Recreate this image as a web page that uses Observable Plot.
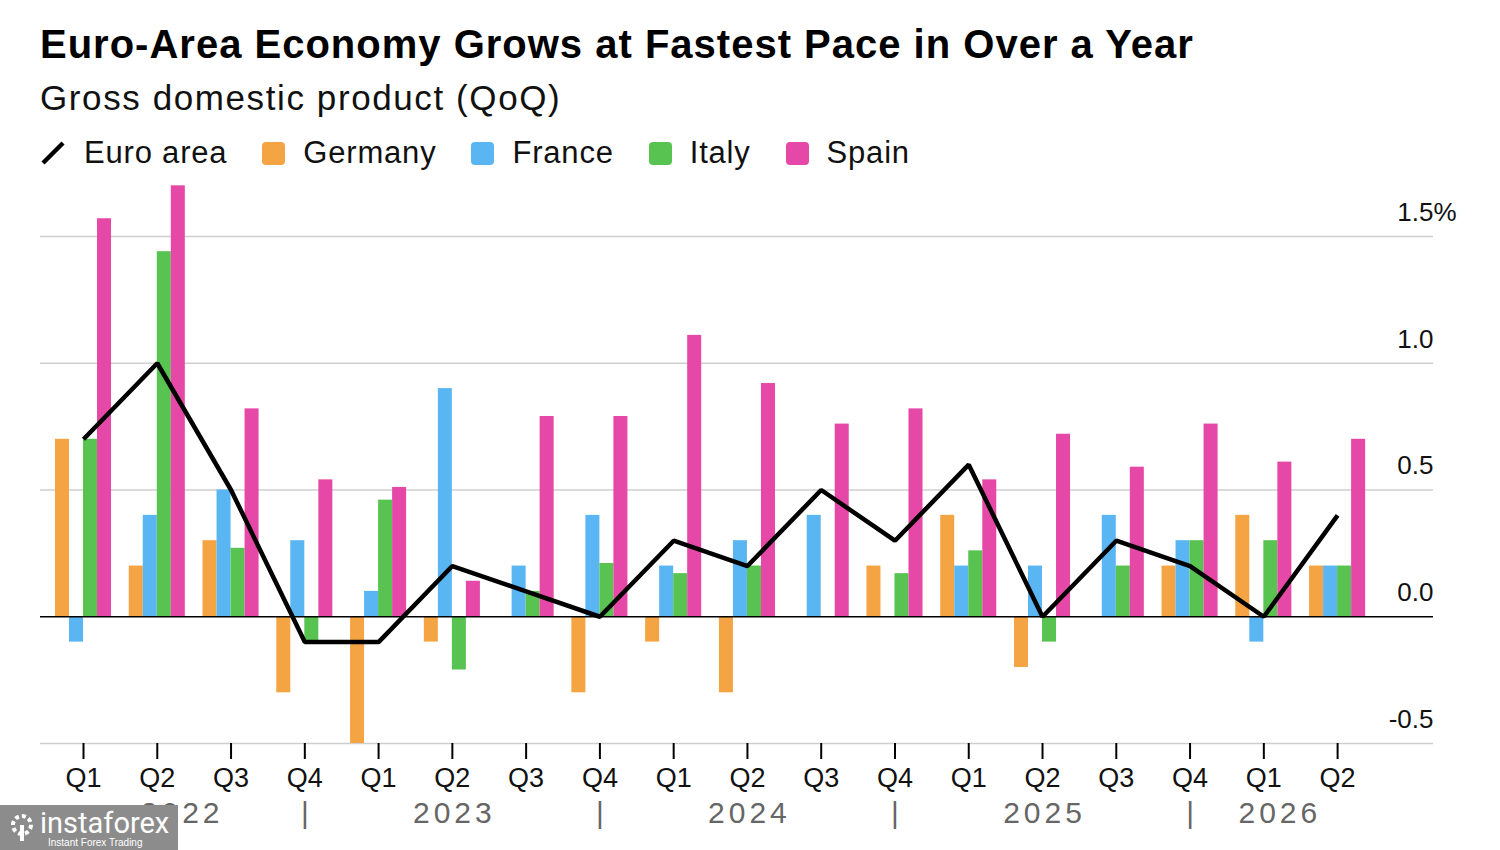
<!DOCTYPE html>
<html>
<head>
<meta charset="utf-8">
<script src="https://cdn.jsdelivr.net/npm/d3@7"></script>
<script src="https://cdn.jsdelivr.net/npm/@observablehq/plot@0.6"></script>
<style>
  html, body { margin: 0; padding: 0; background: #fff; width: 1500px; height: 850px; overflow: hidden; font-family: "Liberation Sans", Arial, sans-serif; }
  .title { position: absolute; left: 40px; top: 24px; font-size: 40px; font-weight: bold; line-height: 1; color: #000; letter-spacing: 1px; white-space: nowrap; }
  .subtitle { position: absolute; left: 40px; top: 80px; font-size: 35px; line-height: 1; color: #111; letter-spacing: 1.6px; white-space: nowrap; }
  .legend { position: absolute; left: 40px; top: 138px; display: flex; align-items: center; font-size: 31px; line-height: 30px; color: #111; letter-spacing: 0.8px; white-space: nowrap; }
  .legend .item { display: flex; align-items: center; margin-right: 35px; }
  .legend .sw { width: 23px; height: 23px; border-radius: 4px; margin-right: 18px; }
  .legend svg { margin-right: 18px; }
  #chart { position: absolute; left: 0; top: 160px; }
  .wm { position: absolute; left: 0; top: 805px; width: 178px; height: 45px; background: #8c8c8c; color: #fff; }
  .wm .big { position: absolute; left: 40px; top: 4px; font-size: 29px; line-height: 1; font-family: "Liberation Sans Narrow", "Roboto", sans-serif; }
  .wm .small { position: absolute; left: 48px; top: 33px; font-size: 10px; line-height: 1; }
  .wm .logo { position: absolute; left: 8px; top: 7px; width: 28px; height: 30px; }
</style>
</head>
<body>
<div class="title">Euro-Area Economy Grows at Fastest Pace in Over a Year</div>
<div class="subtitle">Gross domestic product (QoQ)</div>
<div class="legend" id="legend"></div>
<div id="chart"></div>
<div class="wm">
  <svg class="logo" viewBox="0 0 28 30"><circle cx="14" cy="13" r="9" fill="none" stroke="#fff" stroke-width="4" stroke-dasharray="4 3"/><rect x="12" y="13" width="4" height="16" fill="#fff"/></svg>
  <div class="big">instaforex</div>
  <div class="small">Instant Forex Trading</div>
</div>
<script>
// ---- data ----
const quarterLabels = ["Q1","Q2","Q3","Q4","Q1","Q2","Q3","Q4","Q1","Q2","Q3","Q4","Q1","Q2","Q3","Q4","Q1","Q2"];
const yearLabels = ["2022","2023","2024","2025","2026"];
const seriesNames = ["Germany","France","Italy","Spain"];
const seriesColors = ["#f5a443","#5ab6f2","#58c350","#e548a6"];
const germany = [0.7, 0.2, 0.3, -0.3, -0.5, -0.1, 0, -0.3, -0.1, -0.3, 0, 0.2, 0.4, -0.2, 0, 0.2, 0.4, 0.2];
const france  = [-0.1, 0.4, 0.5, 0.3, 0.1, 0.9, 0.2, 0.4, 0.2, 0.3, 0.4, 0, 0.2, 0.2, 0.4, 0.3, -0.1, 0.2];
const italy   = [0.7, 1.44, 0.27, -0.1, 0.46, -0.21, 0.1, 0.21, 0.17, 0.2, 0, 0.17, 0.26, -0.1, 0.2, 0.3, 0.3, 0.2];
const spain   = [1.57, 1.70, 0.82, 0.54, 0.51, 0.14, 0.79, 0.79, 1.11, 0.92, 0.76, 0.82, 0.54, 0.72, 0.59, 0.76, 0.61, 0.70];
const euroArea = [0.7, 1.0, 0.5, -0.1, -0.1, 0.2, 0.1, 0.0, 0.3, 0.2, 0.5, 0.3, 0.6, 0.0, 0.3, 0.2, 0.0, 0.4];
const yTicks = [-0.5, 0, 0.5, 1.0, 1.5];

// ---- build tables ----
const seriesValues = [germany, france, italy, spain];
const barW = 0.19;
const bars = [];
seriesValues.forEach((vals, s) => vals.forEach((v, i) => bars.push({i, s, v, x1: i - 2 * barW + s * barW, x2: i - 2 * barW + (s + 1) * barW})));
const line = euroArea.map((v, i) => ({i, v}));
const qIdx = quarterLabels.map((_, i) => i);
const q4Idx = qIdx.filter(i => quarterLabels[i] === "Q4");
const leftEdge = -2 * barW, rightEdge = quarterLabels.length - 1 + 2 * barW;
const bounds = [leftEdge, ...q4Idx, rightEdge];
const yearPos = yearLabels.map((y, k) => ({y, x: (bounds[k] + bounds[k + 1]) / 2}));

// ---- legend ----
const leg = document.getElementById("legend");
leg.innerHTML = `<div class="item"><svg width="26" height="26" viewBox="0 0 26 26"><line x1="3" y1="23" x2="23" y2="3" stroke="#000" stroke-width="4.5"/></svg>Euro area</div>` +
  seriesNames.map((n, k) => `<div class="item"><div class="sw" style="background:${seriesColors[k]}"></div>${n}</div>`).join("");

// ---- chart ----
const chart = Plot.plot({
  width: 1500,
  height: 683,
  marginLeft: 40,
  marginRight: 67,
  marginTop: 76,
  marginBottom: 100,
  x: {type: "linear", domain: [-0.583, 18.3], axis: null},
  y: {domain: [-0.5, 1.5], axis: null},
  style: {fontFamily: "Liberation Sans, Arial, sans-serif", background: "transparent"},
  marks: [
    Plot.ruleY(yTicks.filter(d => d !== 0), {stroke: "#cfcfcf", strokeWidth: 1.5}),
    Plot.rectY(bars, {x1: "x1", x2: "x2", y: "v", fill: d => seriesColors[d.s], inset: 0}),
    Plot.ruleY([0], {stroke: "#000", strokeWidth: 1.5}),
    Plot.line(line, {x: "i", y: "v", stroke: "#000", strokeWidth: 4.5, strokeLinejoin: "miter", strokeLinecap: "butt"}),
    Plot.text(yTicks, {y: d => d, text: d => d.toFixed(1), frameAnchor: "right", textAnchor: "end", dy: -24, fontSize: 26, fill: "#111"}),
    Plot.text([yTicks[yTicks.length - 1]], {y: d => d, text: () => "%", frameAnchor: "right", textAnchor: "start", dy: -24, fontSize: 26, fill: "#111"}),
    Plot.axisX(qIdx, {ticks: qIdx, tickFormat: i => quarterLabels[i], tickSize: 16, tickPadding: 8, fontSize: 27, stroke: "#000", strokeWidth: 2, color: "#111"}),
    Plot.text(yearPos, {x: "x", y: -0.5, text: "y", dy: 70, fontSize: 30, fill: "#666"}),
    Plot.text(q4Idx, {x: d => d, y: -0.5, text: () => "|", dy: 70, fontSize: 30, fill: "#666"})
  ]
});
// widen the year labels' letter spacing as in the reference
d3.select(chart).selectAll("text").filter(function () { return yearLabels.includes(this.textContent); })
  .attr("letter-spacing", "4px").attr("dx", "2");
document.getElementById("chart").appendChild(chart);
</script>
</body>
</html>
